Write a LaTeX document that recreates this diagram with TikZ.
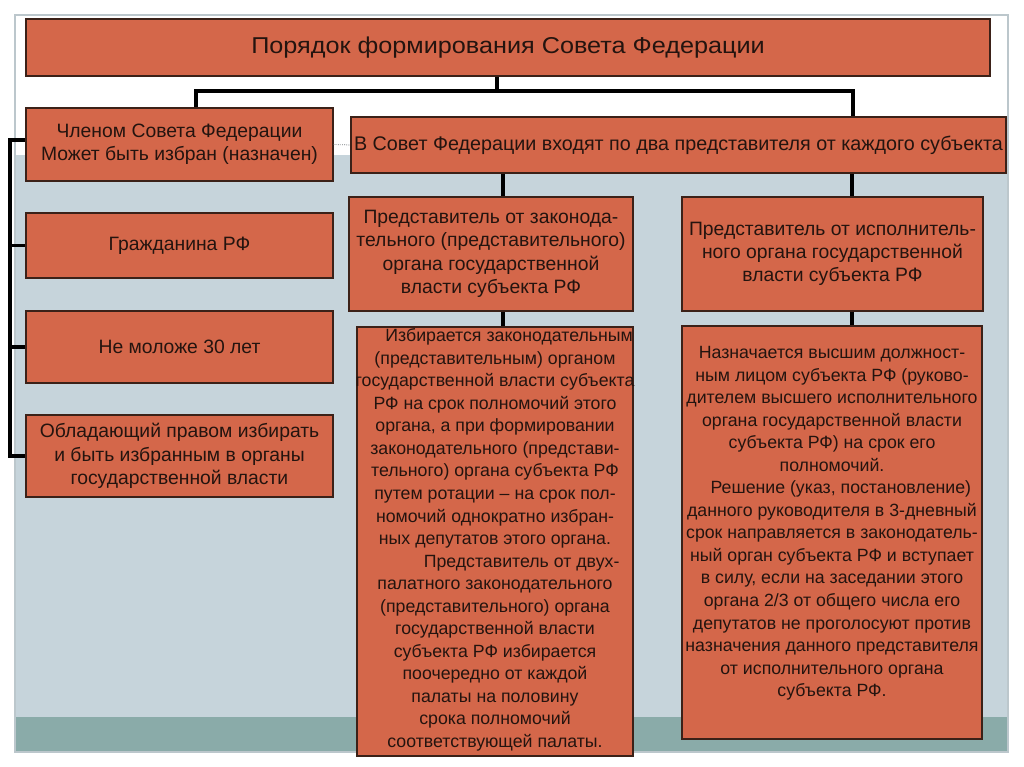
\documentclass[tikz,border=0pt]{standalone}
\usepackage{fontspec}
\setmainfont{Liberation Sans}
\usetikzlibrary{positioning}
\definecolor{brick}{HTML}{D4674A}
\definecolor{brickline}{HTML}{3B2118}
\definecolor{inktext}{HTML}{24140F}
\definecolor{slidegray}{HTML}{C6D4DB}
\definecolor{slideteal}{HTML}{8AABA9}
\definecolor{slideframe}{HTML}{BCC7CC}
\begin{document}
\begin{tikzpicture}[x=0.75pt, y=-0.75pt]
			\tikzstyle{block} = [draw=brickline, fill=brick, line width=0.8pt, inner sep=1pt, text=inktext, align=center, font=\fontsize{14.5}{17.5}\selectfont]
			\tikzstyle{bodytext} = [text=inktext, align=center, inner sep=0pt, font=\fontsize{13.3}{16.9}\selectfont]
			\tikzstyle{link} = [line width=2.5pt, black]
			% slide background
			\useasboundingbox (0,0) rectangle (1024,767);
			\fill[white] (0,0) rectangle (1024,767);
			\fill[slidegray] (15,155) rectangle (1008,717);
			\fill[slideteal] (15,717) rectangle (1008,752);
			\draw[slideframe, line width=1pt] (15,15) rectangle (1008,752);
			\node[block, minimum width=723pt, minimum height=42.75pt, font=\fontsize{17.2}{20}\selectfont\addfontfeature{FakeStretch=1.1}] (title) at (508,47.5) {Порядок формирования Совета Федерации};
			\node[block, minimum width=230.25pt, minimum height=54.75pt] (member) at (179.5,144.5) {Членом Совета Федерации \\ Может быть избран (назначен)};
			\node[block, minimum width=230.25pt, minimum height=48.75pt] (citizen) at (179.5,245.5) {Гражданина РФ};
			\node[block, minimum width=230.25pt, minimum height=54pt] (age) at (179.5,347) {Не моложе 30 лет};
			\node[block, minimum width=230.25pt, minimum height=61.5pt] (power) at (179.5,456) {Обладающий правом избирать \\ и быть избранным в органы \\ государственной власти};
			\node[block, minimum width=491.25pt, minimum height=42pt, inner sep=0pt, font=\fontsize{14.8}{17.5}\selectfont] (two) at (678.5,145) {В Совет Федерации входят по два представителя от каждого субъекта};
			\node[block, minimum width=213pt, minimum height=85.5pt] (legrep) at (491,254) {Представитель от законода- \\ тельного (представительного) \\ органа государственной \\ власти субъекта РФ};
			\node[block, minimum width=225.75pt, minimum height=85.5pt] (exerep) at (832.5,254) {Представитель от исполнитель- \\ ного органа государственной \\ власти субъекта РФ};
			\node[block, minimum width=207pt, minimum height=321.75pt] (legbox) at (495,541.5) {};
			\node[block, minimum width=225pt, minimum height=309.75pt] (exebox) at (832,532.5) {};
			\node[bodytext, below=1.5pt of legbox.north] (legtext) {\hspace*{1.6em}Избирается законодательным \\
 (представительным) органом \\
 государственной власти субъекта \\
 РФ на срок полномочий этого \\
 органа, а при формировании \\
 законодательного (представи- \\
 тельного) органа субъекта РФ \\
 путем ротации -- на срок пол- \\
 номочий однократно избран- \\
 ных депутатов этого органа. \\
 \hspace*{3em}Представитель от двух- \\
 палатного законодательного \\
 (представительного) органа \\
 государственной власти \\
 субъекта РФ избирается \\
 поочередно от каждой \\
 палаты на половину \\
 срока полномочий \\
 соответствующей палаты.};
			\node[bodytext, below=15.5pt of exebox.north] (exetext) {Назначается высшим должност- \\
 ным лицом субъекта РФ (руково- \\
 дителем высшего исполнительного \\
 органа государственной власти \\
 субъекта РФ) на срок его \\
 полномочий. \\
 \hspace*{1em}Решение (указ, постановление) \\
 данного руководителя в 3-дневный \\
 срок направляется в законодатель- \\
 ный орган субъекта РФ и вступает \\
 в силу, если на заседании этого \\
 органа 2/3 от общего числа его \\
 депутатов не проголосуют против \\
 назначения данного представителя \\
 от исполнительного органа \\
 субъекта РФ.};
			% connectors
			\coordinate (hub) at (497,91);
			\coordinate (hubL) at (196,91);
			\coordinate (hubR) at (853,91);
			\coordinate (brk) at (10,140);
			\coordinate (legx) at (503,0);
			\coordinate (exex) at (852,0);
			\draw[link] (hub |- title.south) -- (hub);
			\draw[link] (member.north -| hubL) -- (hubL) -- (hubR) -- (two.north -| hubR);
			\draw[link] (member.west |- brk) -- (brk) -- (brk |- power.west) -- (power.west);
			\draw[link] (brk |- citizen.west) -- (citizen.west);
			\draw[link] (brk |- age.west) -- (age.west);
			\draw[link] (two.south -| legx) -- (legrep.north -| legx);
			\draw[link] (two.south -| exex) -- (exerep.north -| exex);
			\draw[link] (legrep.south -| legx) -- (legbox.north -| legx);
			\draw[link] (exerep.south -| exex) -- (exebox.north -| exex);
			\draw[slideframe!60!black, densely dotted, line width=0.6pt] (member.east) -- (two.west);
\end{tikzpicture}
\end{document}
